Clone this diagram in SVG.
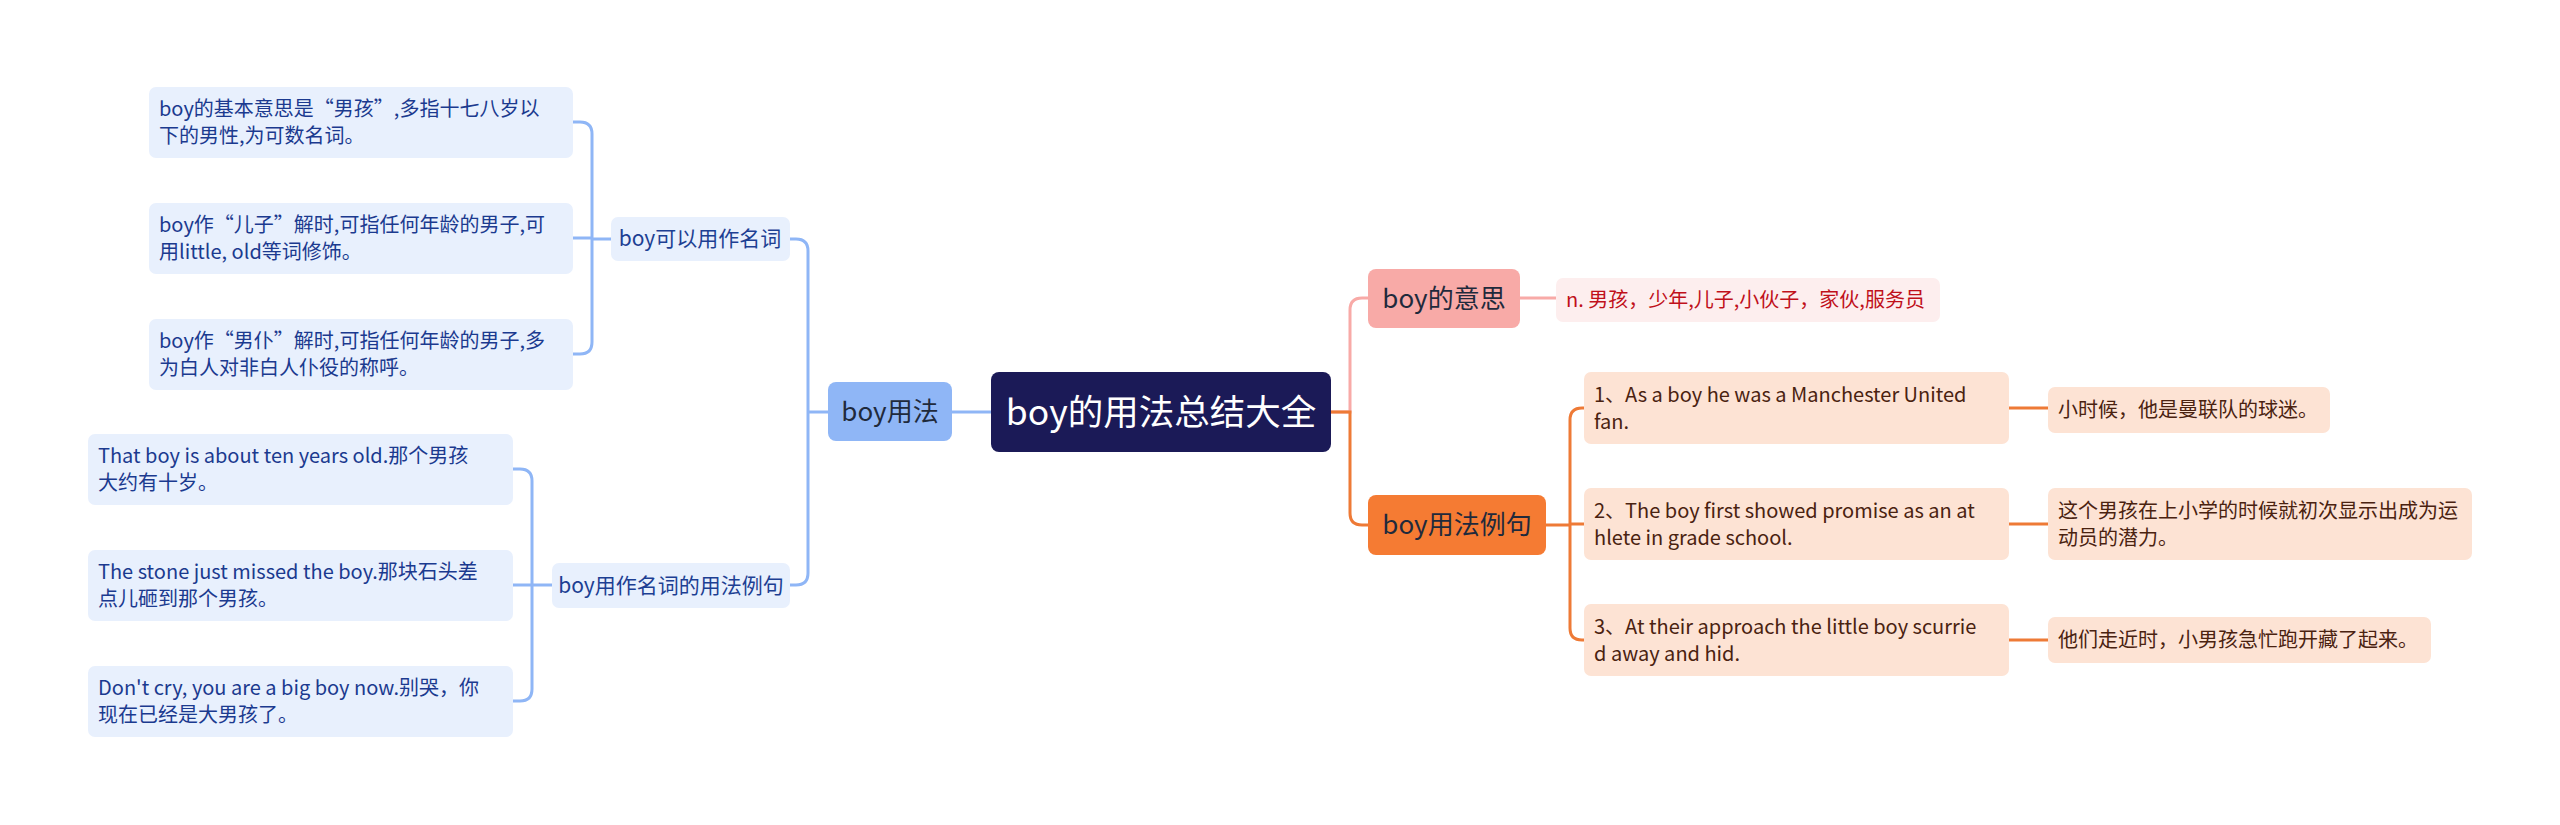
<svg xmlns="http://www.w3.org/2000/svg" width="2560" height="825" viewBox="0 0 2560 825">
<style>
text{font-family:"Noto Sans CJK SC","Noto Sans",sans-serif;}
.root{fill:#1b1a57;}
.rootT{fill:#ffffff;font-size:35.5px;}
.l1b{fill:#8fb6f6;}
.l1T{fill:#1f2a3c;font-size:26px;}
.l2b{fill:#e8f0fd;}
.l2T{fill:#1d3f93;font-size:21px;}
.lfb{fill:#e8f0fd;}
.lfT{fill:#1b3a8f;font-size:20px;}
.pk{fill:#f8aaa7;}
.pkl{fill:#fdeeee;}
.pkT{fill:#c0101a;font-size:20px;}
.or{fill:#f57b33;}
.orl{fill:#fde3d4;}
.orT{fill:#4a2210;font-size:20px;}
.cb{fill:none;stroke:#8fb6f6;stroke-width:3;}
.cp{fill:none;stroke:#f8aaa7;stroke-width:3;}
.co{fill:none;stroke:#ee7a36;stroke-width:3;}
</style>
<rect width="2560" height="825" fill="#ffffff"/>
<g id="connectors">
<path class="cb" d="M991 412 H952"/>
<path class="cb" d="M828 412 H808 M808 412 V251 Q808 239 796 239 H790 M808 412 V573 Q808 585 796 585 H790"/>
<path class="cb" d="M611 239 H592 M592 239 V134 Q592 122 580 122 H573 M592 239 V342 Q592 354 580 354 H573 M592 238 H573"/>
<path class="cb" d="M552 585 H532 M532 585 V481 Q532 469 520 469 H513 M532 585 V689 Q532 701 520 701 H513 M532 585 H513"/>
<path class="cp" d="M1331 412 H1350 V310 Q1350 298 1362 298 H1368"/>
<path class="co" d="M1331 412 H1350 V513 Q1350 525 1362 525 H1368"/>
<path class="cp" d="M1520 298 H1556"/>
<path class="co" d="M1546 525 H1570 M1570 525 V420 Q1570 408 1582 408 H1584 M1570 525 V628 Q1570 640 1582 640 H1584 M1570 524 H1584"/>
<path class="co" d="M2009 408 H2048 M2009 524 H2048 M2009 640 H2048"/>
</g>
<g id="root">
<rect class="root" x="991" y="372" width="340" height="80" rx="8"/>
<text class="rootT" x="1161" y="425" text-anchor="middle">boy的用法总结大全</text>
</g>
<g id="n-boyyongfa">
<rect class="l1b" x="828" y="382" width="124" height="59" rx="8"/>
<text class="l1T" x="890" y="421" text-anchor="middle">boy用法</text>
</g>
<g id="n-mingci">
<rect class="l2b" x="611" y="217" width="179" height="44" rx="7"/>
<text class="l2T" x="700" y="246" text-anchor="middle">boy可以用作名词</text>
</g>
<g id="n-liju-left">
<rect class="l2b" x="552" y="563" width="238" height="45" rx="7"/>
<text class="l2T" x="671" y="593" text-anchor="middle">boy用作名词的用法例句</text>
</g>
<g id="leaf-1">
<rect class="lfb" x="149" y="87" width="424" height="71" rx="7"/>
<text class="lfT" x="159" y="116">boy的基本意思是“男孩”,多指十七八岁以</text>
<text class="lfT" x="159" y="143">下的男性,为可数名词。</text>
</g>
<g id="leaf-2">
<rect class="lfb" x="149" y="203" width="424" height="71" rx="7"/>
<text class="lfT" x="159" y="232">boy作“儿子”解时,可指任何年龄的男子,可</text>
<text class="lfT" x="159" y="259">用little, old等词修饰。</text>
</g>
<g id="leaf-3">
<rect class="lfb" x="149" y="319" width="424" height="71" rx="7"/>
<text class="lfT" x="159" y="348">boy作“男仆”解时,可指任何年龄的男子,多</text>
<text class="lfT" x="159" y="375">为白人对非白人仆役的称呼。</text>
</g>
<g id="leaf-4">
<rect class="lfb" x="88" y="434" width="425" height="71" rx="7"/>
<text class="lfT" x="98" y="463">That boy is about ten years old.那个男孩</text>
<text class="lfT" x="98" y="490">大约有十岁。</text>
</g>
<g id="leaf-5">
<rect class="lfb" x="88" y="550" width="425" height="71" rx="7"/>
<text class="lfT" x="98" y="579">The stone just missed the boy.那块石头差</text>
<text class="lfT" x="98" y="606">点儿砸到那个男孩。</text>
</g>
<g id="leaf-6">
<rect class="lfb" x="88" y="666" width="425" height="71" rx="7"/>
<text class="lfT" x="98" y="695">Don't cry, you are a big boy now.别哭，你</text>
<text class="lfT" x="98" y="722">现在已经是大男孩了。</text>
</g>
<g id="n-yisi">
<rect class="pk" x="1368" y="269" width="152" height="59" rx="8"/>
<text class="l1T" x="1444" y="308" text-anchor="middle">boy的意思</text>
</g>
<g id="leaf-yisi">
<rect class="pkl" x="1556" y="278" width="384" height="44" rx="7"/>
<text class="pkT" x="1566" y="307">n. 男孩，少年,儿子,小伙子，家伙,服务员</text>
</g>
<g id="n-liju-right">
<rect class="or" x="1368" y="495" width="178" height="60" rx="8"/>
<text class="l1T" x="1457" y="534" text-anchor="middle">boy用法例句</text>
</g>
<g id="ex-1">
<rect class="orl" x="1584" y="372" width="425" height="72" rx="7"/>
<text class="orT" x="1594" y="402">1、As a boy he was a Manchester United</text>
<text class="orT" x="1594" y="429">fan.</text>
</g>
<g id="ex-2">
<rect class="orl" x="1584" y="488" width="425" height="72" rx="7"/>
<text class="orT" x="1594" y="518">2、The boy first showed promise as an at</text>
<text class="orT" x="1594" y="545">hlete in grade school.</text>
</g>
<g id="ex-3">
<rect class="orl" x="1584" y="604" width="425" height="72" rx="7"/>
<text class="orT" x="1594" y="634">3、At their approach the little boy scurrie</text>
<text class="orT" x="1594" y="661">d away and hid.</text>
</g>
<g id="tr-1">
<rect class="orl" x="2048" y="387" width="282" height="46" rx="7"/>
<text class="orT" x="2058" y="417">小时候，他是曼联队的球迷。</text>
</g>
<g id="tr-2">
<rect class="orl" x="2048" y="488" width="424" height="72" rx="7"/>
<text class="orT" x="2058" y="518">这个男孩在上小学的时候就初次显示出成为运</text>
<text class="orT" x="2058" y="545">动员的潜力。</text>
</g>
<g id="tr-3">
<rect class="orl" x="2048" y="617" width="383" height="46" rx="7"/>
<text class="orT" x="2058" y="647">他们走近时，小男孩急忙跑开藏了起来。</text>
</g>
</svg>
